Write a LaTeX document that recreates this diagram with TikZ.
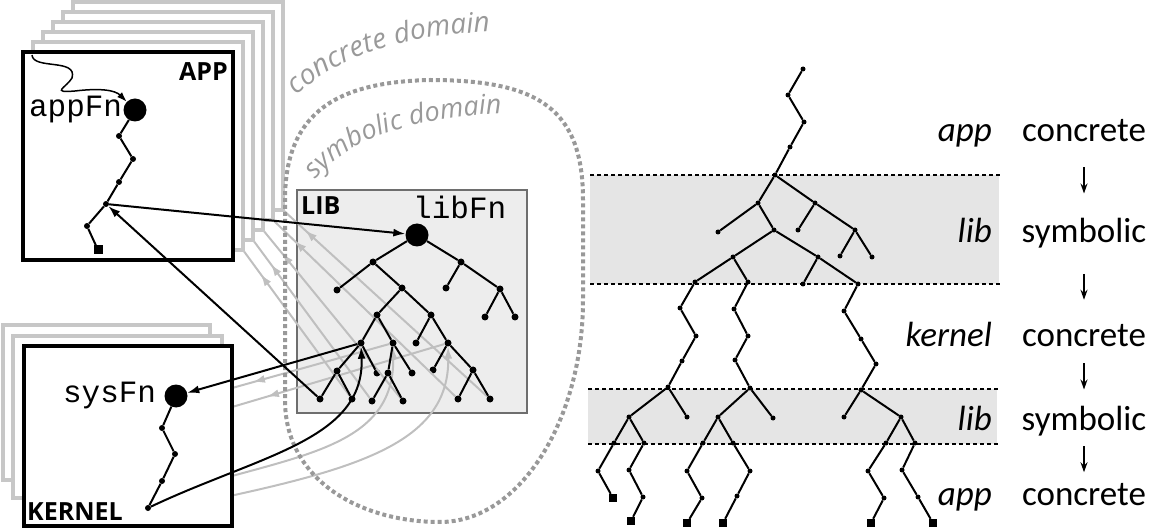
\documentclass[tikz,border=0pt]{standalone}
\usepackage{fontspec}
\setmainfont{Carlito}
\setmonofont{Liberation Mono}
\newfontfamily\labelfont{Open Sans}
\usepackage{tikz}
\usetikzlibrary{positioning,arrows.meta,decorations.markings,decorations.text,calc}

\tikzset{
  dot/.style={circle, fill, inner sep=0pt, minimum size=7pt},
  rdot/.style={circle, fill, inner sep=0pt, minimum size=5pt},
  bigdot/.style={circle, fill, inner sep=0pt, minimum size=23pt},
  leafsq/.style={rectangle, fill, inner sep=0pt, minimum size=9pt},
  edge/.style={line width=2pt},
  arr/.style={line width=2pt, -{Latex[length=12pt,width=8pt]}},
  ghost/.style={line width=2pt, color=black!25},
  ghostarr/.style={ghost, postaction={decorate},
    decoration={markings, mark=at position #1 with {\arrow{Latex[length=12pt,width=8pt]}}}},
  ghostbox/.style={draw=black!22, line width=3.5pt, fill=white},
  frontbox/.style={draw, line width=3.5pt, fill=white},
  mono/.style={font=\ttfamily\fontsize{31}{31}\selectfont, inner sep=0pt},
  boxlabel/.style={font=\labelfont\bfseries\fontsize{25}{25}\selectfont, inner sep=0pt},
  layer/.style={font=\itshape\fontsize{35}{35}\selectfont, anchor=base east, inner sep=0pt},
  mode/.style={font=\fontsize{35}{35}\selectfont, anchor=base, inner sep=0pt},
  band/.style={fill=black!10},
  bandline/.style={line width=1.5pt, dash pattern=on 4pt off 3pt},
  down/.style={line width=1.5pt, -{Stealth[length=10pt,width=7pt]}},
  domainline/.style={draw=black!40, line width=4pt, dash pattern=on 4pt off 3pt},
}

\begin{document}
\begin{tikzpicture}[x=1pt, y=-1pt]
\useasboundingbox (0,0) rectangle (1149,529);

\fill[band] (590,175) rectangle (999,284);
\fill[band] (588,389) rectangle (997,444);
\draw[bandline] (590,175) -- (1000,175);
\draw[bandline] (590,284) -- (1000,284);
\draw[bandline] (588,389) -- (998,389);
\draw[bandline] (588,444) -- (998,444);

\draw[fill=black!7, draw=black!57, line width=2pt] (297,190) rectangle (527,413);

\node[bigdot] (libfn) at (417,235) {};
\foreach \n/\x/\y in {a/373/262, b/461/262, a1/337/290, a2/402/288, b1/446/288,
    b2/500/289, b3/485/317, b4/515/317, c/377/315, d/431/315, c1/361/343,
    c2/393/343, d1/416/343, d2/448/343, e/337/371, f/377/373, g/388/373,
    h/412/373, i/433/370, j/473/370, e1/320/399, e2/352/399, g1/372/401,
    g2/403/401, j1/458/399, j2/490/399}
  \node[dot] (\n) at (\x,\y) {};

\foreach \i in {1,...,5}
  \coordinate (cp\i) at (233+10*\i, 260-10*\i);
\foreach \s/\t in {e2/cp1, g1/cp2, g2/cp3, j1/cp4, j2/cp5}
  \draw[ghostarr=-30pt] (\s) -- (\t);

\coordinate (kh1) at (200,397);
\coordinate (kh2) at (195,418);
\coordinate (ks1) at (140,505);
\coordinate (ks2) at (140,515);
\draw[ghostarr=-55pt] (c2) -- (kh1);
\draw[ghostarr=-75pt] (d2) -- (kh2);
\draw[ghost, -{Latex[length=12pt,width=8pt]}] (ks1) .. controls (270,455) and (395,460) .. (c2);
\draw[ghost, -{Latex[length=12pt,width=8pt]}] (ks2) .. controls (330,475) and (450,455) .. (d2);

\foreach \i in {5,4,...,1}
  \draw[ghostbox] (23+10*\i, 52-10*\i) rectangle (233+10*\i, 260-10*\i);
\draw[frontbox] (23,52) rectangle (233,260);

\draw[ghostbox] (3,325) rectangle (210,480);
\draw[ghostbox] (13,336) rectangle (222,498);
\draw[frontbox] (24,346) rectangle (232,526);

\draw[domainline] (285,300) -- (285,200) .. controls (285,110) and (340,82) .. (430,80)
  .. controls (540,80) and (583,110) .. (583,200) -- (583,300)
  .. controls (583,420) and (520,522) .. (440,522)
  .. controls (360,522) and (285,480) .. (285,400) -- cycle;

\foreach \s/\t in {libfn/a, libfn/b, a/a1, a/a2, b/b1, b/b2, b2/b3, b2/b4, a2/c,
    a2/d, c/c1, c/c2, d/d1, d/d2, c1/e, c1/f, c2/g, c2/h, e/e1, e/e2, g/g1, g/g2,
    d2/i, d2/j, j/j1, j/j2}
  \draw[edge] (\s) -- (\t);

\node[bigdot] (appfn) at (135,110) {};
\foreach \n/\x/\y in {p1/119/136, p2/133/159, p3/119/182, p4/106/204, p5/87/226}
  \node[dot, minimum size=6pt] (\n) at (\x,\y) {};
\node[leafsq] (p6) at (98,250) {};
\foreach \s/\t in {appfn/p1, p1/p2, p2/p3, p3/p4, p4/p5, p5/p6}
  \draw[edge] (\s) -- (\t);

\node[bigdot] (sysfn) at (176,396) {};
\foreach \n/\x/\y in {q1/162/428, q2/175/454, q3/162/481, q4/148/508}
  \node[dot, minimum size=6pt] (\n) at (\x,\y) {};
\foreach \s/\t in {sysfn/q1, q1/q2, q2/q3, q3/q4}
  \draw[edge] (\s) -- (\t);

\coordinate (entry) at (32,55);
\draw[line width=1.5pt, -{Latex[length=10pt,width=7pt]}] (entry)
  .. controls (33,70) and (78,58) .. (72,78)
  .. controls (66,88) and (50,93) .. (75,91)
  .. controls (100,88) and (115,90) .. (appfn);

\draw[arr] (p4) -- (libfn);
\draw[arr] (e1) -- (p4);
\draw[arr] (c1) -- (sysfn);
\draw[arr] (q4) .. controls (260,455) and (365,440) .. (c1);

\node[mono, left=1pt of appfn] (appfnlabel) {appFn};
\node[mono, left=8pt of sysfn] (sysfnlabel) {sysFn};
\node[mono, anchor=base west] (libfnlabel) at (413,219) {libFn};
\node[boxlabel, anchor=north east] (applabel) at (228,62) {APP};
\node[boxlabel, anchor=north west] (liblabel) at (301,196) {LIB};
\node[boxlabel, anchor=south west] (kernellabel) at (27,521) {KERNEL};

\path[decorate, decoration={text along path, text color=black!40,
    text={|\labelfont\itshape\fontsize{28}{28}\selectfont|concrete domain}}]
  (297,96) .. controls (345,50) and (415,33) .. (520,30);
\path[decorate, decoration={text along path, text color=black!40,
    text={|\labelfont\itshape\fontsize{27}{27}\selectfont|symbolic domain}}]
  (316,180) .. controls (352,134) and (425,114) .. (535,112);

\foreach \n/\x/\y in {r1/803/69, r2/788/95, r3/804/122, r4/790/147, r5/775/175,
    s1/758/203, s2/815/203, s3/855/230, s4/798/230, s5/840/256, s6/872/257,
    s7/718/232, s8/774/230, s9/733/257, s10/818/257, s11/858/284, s12/695/282,
    s13/748/282, s14/803/284,
    k1/680/308, k2/696/336, k3/682/361, k4/668/387,
    k5/734/309, k6/748/336, k7/735/360, k8/750/388,
    k9/844/311, k10/861/339, k11/876/364, k12/861/390,
    t1/629/417, t2/687/417, t3/718/417, t4/773/418, t5/844/417, t6/901/417,
    t7/614/443, t8/644/443, t9/703/443, t10/733/443, t11/886/443, t12/915/443,
    u1/598/471, u2/629/470, u3/643/497, u4/687/471, u5/702/498, u6/750/471,
    u7/737/496, u8/868/471, u9/884/498, u10/902/470, u11/918/497}
  \node[rdot] (\n) at (\x,\y) {};
\foreach \n/\x/\y in {w1/613/498, w2/631/521, w3/687/523, w4/723/523, w5/871/523, w6/933/523}
  \node[leafsq, minimum size=8pt] (\n) at (\x,\y) {};
\foreach \s/\t in {r1/r2, r2/r3, r3/r4, r4/r5, r5/s1, r5/s2, s2/s3, s2/s4, s3/s5,
    s3/s6, s1/s7, s1/s8, s8/s9, s8/s10, s10/s11, s9/s12, s9/s13, s10/s14,
    s12/k1, k1/k2, k2/k3, k3/k4, s13/k5, k5/k6, k6/k7, k7/k8,
    s11/k9, k9/k10, k10/k11, k11/k12,
    k4/t1, k4/t2, k8/t3, k8/t4, k12/t5, k12/t6,
    t1/t7, t1/t8, t3/t9, t3/t10, t6/t11, t6/t12,
    t7/u1, u1/w1, t8/u2, u2/u3, u3/w2, t9/u4, u4/u5, u5/w3,
    t10/u6, u6/u7, u7/w4, t11/u8, u8/u9, u9/w5, t12/u10, u10/u11, u11/w6}
  \draw[edge] (\s) -- (\t);

\node[layer] (lay1) at (992,142) {app};
\node[layer] (lay2) at (992,243) {lib};
\node[layer] (lay3) at (992,347) {kernel};
\node[layer] (lay4) at (992,430) {lib};
\node[layer] (lay5) at (992,505) {app};
\node[mode] (mode1) at (1084,142) {concrete};
\node[mode] (mode2) at (1084,243) {symbolic};
\node[mode] (mode3) at (1084,347) {concrete};
\node[mode] (mode4) at (1084,430) {symbolic};
\node[mode] (mode5) at (1084,505) {concrete};
\foreach \s/\t in {mode1/mode2, mode2/mode3, mode3/mode4, mode4/mode5}
  \draw[down] ($(\s.south)!0.5!(\t.north)+(0,-13)$) -- ++(0,26);
\end{tikzpicture}
\end{document}
